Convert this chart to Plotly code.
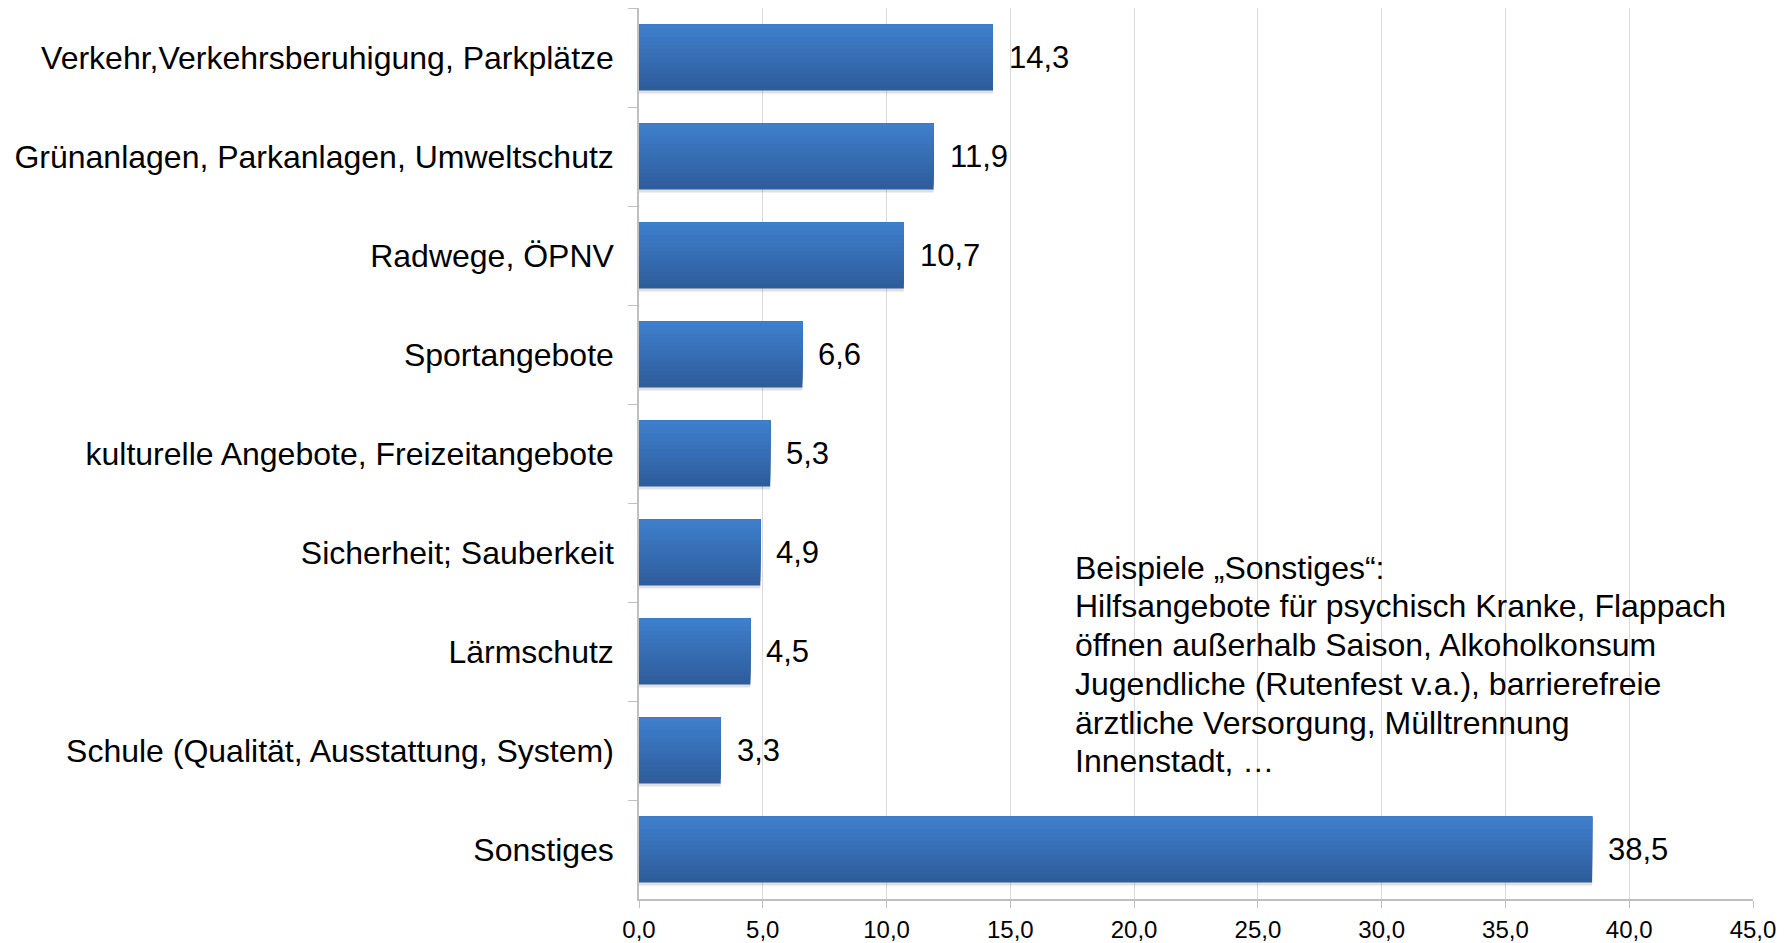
import plotly.graph_objects as go

# Data
categories = [
    "Verkehr,Verkehrsberuhigung, Parkplätze",
    "Grünanlagen, Parkanlagen, Umweltschutz",
    "Radwege, ÖPNV",
    "Sportangebote",
    "kulturelle Angebote, Freizeitangebote",
    "Sicherheit; Sauberkeit",
    "Lärmschutz",
    "Schule (Qualität, Ausstattung, System)",
    "Sonstiges",
]
values = [14.3, 11.9, 10.7, 6.6, 5.3, 4.9, 4.5, 3.3, 38.5]
x_ticks = [0, 5, 10, 15, 20, 25, 30, 35, 40, 45]
x_labels = ["0,0", "5,0", "10,0", "15,0", "20,0", "25,0", "30,0", "35,0", "40,0", "45,0"]

note_lines = [
    "Beispiele „Sonstiges“:",
    "Hilfsangebote für psychisch Kranke, Flappach",
    "öffnen außerhalb Saison, Alkoholkonsum",
    "Jugendliche (Rutenfest v.a.), barrierefreie",
    "ärztliche Versorgung, Mülltrennung",
    "Innenstadt, …",
]

FONT = "Liberation Sans, Arial, sans-serif"
BAR_W = 0.666
top_rgb = (62, 127, 205)
bot_rgb = (46, 92, 154)
n_steps = 16

fig = go.Figure()

# soft shadow under the bars
fig.add_trace(go.Bar(
    x=values, y=categories, orientation="h",
    width=BAR_W, offset=-BAR_W / 2 + 0.03,
    marker=dict(color="rgba(0,0,0,0.12)", line=dict(width=0)),
    hoverinfo="skip", showlegend=False,
))

# stepped vertical gradient built from stacked strips
for k in range(n_steps):
    t = (k + 0.5) / n_steps
    c = tuple(round(b + (a - b) * t) for a, b in zip(top_rgb, bot_rgb))
    fig.add_trace(go.Bar(
        x=values, y=categories, orientation="h",
        width=BAR_W * (n_steps - k) / n_steps, offset=-BAR_W / 2,
        marker=dict(color="rgb(%d,%d,%d)" % c, line=dict(width=0)),
        hoverinfo="skip" if k else "x+y", showlegend=False,
    ))

# value labels
for cat, v in zip(categories, values):
    fig.add_annotation(
        x=v, y=cat, text=("%.1f" % v).replace(".", ","),
        xanchor="left", yanchor="middle", xshift=14, showarrow=False,
        font=dict(family=FONT, size=31, color="black"),
    )

# note text, one annotation per line for tighter line spacing
for i, line in enumerate(note_lines):
    fig.add_annotation(
        x=0.3896, y=0.372 - i * 0.0435, xref="paper", yref="paper",
        text=line, align="left",
        xanchor="left", yanchor="middle", showarrow=False,
        font=dict(family=FONT, size=32, color="black"),
    )

fig.update_layout(
    width=1790, height=943,
    barmode="overlay",
    plot_bgcolor="white", paper_bgcolor="white",
    margin=dict(l=639, r=37, t=8, b=44, autoexpand=False),
    font=dict(family=FONT, color="black"),
    xaxis=dict(
        range=[0, 45], tickvals=x_ticks, ticktext=x_labels,
        showgrid=True, gridcolor="#d9d9d9", gridwidth=1,
        zeroline=False, showline=True, linecolor="#bfbfbf", linewidth=1.5,
        ticks="outside", ticklen=7, tickcolor="#bfbfbf",
        ticklabelstandoff=1, automargin=False,
        tickfont=dict(family=FONT, size=24, color="black"),
    ),
    yaxis=dict(
        autorange="reversed", showgrid=False, zeroline=False,
        showline=True, linecolor="#bfbfbf", linewidth=1.5,
        ticks="outside", ticklen=9, tickcolor="#bfbfbf", tickson="boundaries",
        ticklabelstandoff=17, automargin=False,
        tickfont=dict(family=FONT, size=32, color="black"),
    ),
)

# drop the default 8px body margin so the figure fills the window
fig.write_html("out.html", config={"displayModeBar": False},
               post_script="document.body.style.margin='0';")
